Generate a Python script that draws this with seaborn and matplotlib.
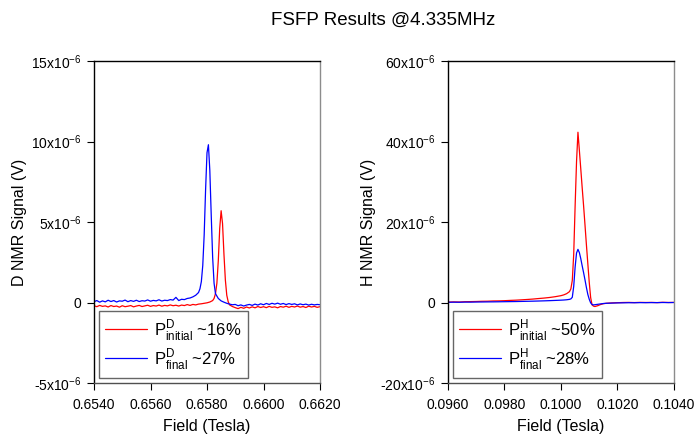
import numpy as np
import pandas as pd
import matplotlib
matplotlib.use("Agg")
import matplotlib.pyplot as plt
import seaborn as sns
from matplotlib.ticker import FixedLocator, FuncFormatter

# ── Data (signal values in units of 1e-6 V) ───────────────────────────────────
D_FIELD_FINAL = [
    0.6540, 0.6541, 0.6542, 0.6543, 0.6544, 0.6545, 0.6546, 0.6547, 0.6548, 0.6549,
    0.6550, 0.6551, 0.6552, 0.6553, 0.6554, 0.6555, 0.6556, 0.6557, 0.6558, 0.6559,
    0.6560, 0.6561, 0.6562, 0.6563, 0.6564, 0.6565, 0.6566, 0.6567, 0.6568, 0.6569,
    0.6570, 0.6571, 0.6572, 0.6573, 0.6574, 0.6575, 0.6576, 0.6577, 0.65775, 0.6578,
    0.65785, 0.6579, 0.65795, 0.6580, 0.65805, 0.6581, 0.65815, 0.6582, 0.65825, 0.6583,
    0.6584, 0.6585, 0.6586, 0.6587, 0.6588, 0.6589, 0.6590, 0.6591, 0.6592, 0.6593,
    0.6594, 0.6595, 0.6596, 0.6597, 0.6598, 0.6599, 0.6600, 0.6601, 0.6602, 0.6603,
    0.6604, 0.6605, 0.6606, 0.6607, 0.6608, 0.6609, 0.6610, 0.6611, 0.6612, 0.6613,
    0.6614, 0.6615, 0.6616, 0.6617, 0.6618, 0.6619, 0.6620,
]
D_SIGNAL_FINAL = [
    0.05, 0.12, 0.02, 0.10, 0.04, 0.14, 0.06, 0.12, 0.03, 0.10,
    0.08, 0.15, 0.05, 0.12, 0.07, 0.14, 0.06, 0.11, 0.09, 0.16,
    0.08, 0.13, 0.10, 0.17, 0.09, 0.14, 0.12, 0.18, 0.15, 0.32,
    0.12, 0.20, 0.18, 0.25, 0.28, 0.35, 0.45, 0.62, 0.85, 1.3,
    2.3, 4.2, 7.0, 9.3, 9.8, 8.2, 5.4, 2.8, 1.2, 0.55,
    0.25, 0.10, 0.02, -0.05, -0.10, -0.14, -0.12, -0.20, -0.15, -0.22,
    -0.16, -0.12, -0.18, -0.10, -0.16, -0.08, -0.14, -0.06, -0.12, -0.05,
    -0.10, -0.04, -0.11, -0.06, -0.13, -0.07, -0.12, -0.08, -0.15, -0.09,
    -0.14, -0.10, -0.16, -0.11, -0.15, -0.12, -0.14,
]

D_FIELD_INITIAL = [
    0.6540, 0.6541, 0.6542, 0.6543, 0.6544, 0.6545, 0.6546, 0.6547, 0.6548, 0.6549,
    0.6550, 0.6551, 0.6552, 0.6553, 0.6554, 0.6555, 0.6556, 0.6557, 0.6558, 0.6559,
    0.6560, 0.6561, 0.6562, 0.6563, 0.6564, 0.6565, 0.6566, 0.6567, 0.6568, 0.6569,
    0.6570, 0.6571, 0.6572, 0.6573, 0.6574, 0.6575, 0.6576, 0.6577, 0.6578, 0.6579,
    0.6580, 0.6581, 0.6582, 0.65825, 0.6583, 0.65835, 0.6584, 0.65845, 0.6585, 0.65855,
    0.6586, 0.65865, 0.6587, 0.65875, 0.6588, 0.6589, 0.6590, 0.6591, 0.6592, 0.6593,
    0.6594, 0.6595, 0.6596, 0.6597, 0.6598, 0.6599, 0.6600, 0.6601, 0.6602, 0.6603,
    0.6604, 0.6605, 0.6606, 0.6607, 0.6608, 0.6609, 0.6610, 0.6611, 0.6612, 0.6613,
    0.6614, 0.6615, 0.6616, 0.6617, 0.6618, 0.6619, 0.6620,
]
D_SIGNAL_INITIAL = [
    -0.20, -0.26, -0.18, -0.24, -0.21, -0.28, -0.19, -0.25, -0.22, -0.29,
    -0.20, -0.26, -0.23, -0.19, -0.27, -0.22, -0.18, -0.25, -0.21, -0.17,
    -0.24, -0.19, -0.22, -0.16, -0.23, -0.18, -0.21, -0.15, -0.20, -0.17,
    -0.22, -0.16, -0.19, -0.13, -0.18, -0.12, -0.15, -0.10, -0.08, -0.05,
    -0.02, 0.03, 0.12, 0.25, 0.55, 1.2, 2.6, 4.6, 5.7, 4.9,
    3.0, 1.4, 0.45, 0.05, -0.15, -0.25, -0.32, -0.38, -0.30, -0.36,
    -0.28, -0.34, -0.27, -0.33, -0.25, -0.31, -0.26, -0.32, -0.24, -0.30,
    -0.27, -0.33, -0.25, -0.29, -0.23, -0.30, -0.24, -0.28, -0.22, -0.29,
    -0.25, -0.31, -0.23, -0.28, -0.24, -0.30, -0.26,
]

H_FIELD = [
    0.0960, 0.0962, 0.0964, 0.0966, 0.0968, 0.0970, 0.0972, 0.0974, 0.0976, 0.0978,
    0.0980, 0.0982, 0.0984, 0.0986, 0.0988, 0.0990, 0.0992, 0.0994, 0.0996, 0.0998,
    0.1000, 0.1001, 0.1002, 0.1003, 0.10035, 0.1004, 0.10045, 0.1005, 0.10055, 0.1006,
    0.10065, 0.1007, 0.10075, 0.1008, 0.10085, 0.1009, 0.10095, 0.1010, 0.10105, 0.1011,
    0.10115, 0.1012, 0.1013, 0.1014, 0.1015, 0.1016, 0.1018, 0.1020, 0.1022, 0.1024,
    0.1026, 0.1028, 0.1030, 0.1032, 0.1034, 0.1036, 0.1038, 0.1040,
]
H_SIGNAL_INITIAL = [
    0.10, 0.15, 0.12, 0.20, 0.22, 0.25, 0.30, 0.32, 0.38, 0.40,
    0.45, 0.52, 0.58, 0.66, 0.75, 0.85, 0.98, 1.10, 1.25, 1.45,
    1.7, 1.9, 2.2, 2.7, 3.4, 5.5, 12.0, 24.0, 35.0, 42.3,
    37.8, 33.2, 28.5, 24.0, 19.2, 14.3, 9.6, 5.0, 1.2, -0.6,
    -0.9, -1.0, -0.8, -0.5, -0.3, -0.2, -0.1, -0.05, 0.0, 0.02,
    -0.02, 0.03, 0.0, 0.02, -0.03, 0.05, 0.0, 0.02,
]
H_SIGNAL_FINAL = [
    0.05, 0.08, 0.06, 0.10, 0.09, 0.12, 0.13, 0.15, 0.16, 0.18,
    0.20, 0.22, 0.24, 0.27, 0.30, 0.33, 0.37, 0.41, 0.46, 0.52,
    0.58, 0.62, 0.68, 0.78, 0.9, 1.3, 4.0, 8.8, 12.3, 13.2,
    12.4, 10.9, 9.1, 7.4, 5.6, 3.7, 2.0, 0.8, -0.1, -0.5,
    -0.6, -0.55, -0.45, -0.35, -0.25, -0.2, -0.15, -0.1, -0.08, -0.05,
    -0.06, -0.03, -0.04, -0.02, -0.03, 0.0, -0.02, 0.0,
]

D_XTICKS = [0.6540, 0.6560, 0.6580, 0.6600, 0.6620]
D_YTICKS = [-5, 0, 5, 10, 15]
H_XTICKS = [0.0960, 0.0980, 0.1000, 0.1020, 0.1040]
H_YTICKS = [-20, 0, 20, 40, 60]

D_LABELS = [r"P$^{\mathregular{D}}_{\mathregular{initial}}$ ~16%",
            r"P$^{\mathregular{D}}_{\mathregular{final}}$ ~27%"]
H_LABELS = [r"P$^{\mathregular{H}}_{\mathregular{initial}}$ ~50%",
            r"P$^{\mathregular{H}}_{\mathregular{final}}$ ~28%"]

# ── Style ─────────────────────────────────────────────────────────────────────
sns.set_style("ticks")
plt.rcParams["font.family"] = ["Liberation Sans", "DejaVu Sans"]
plt.rcParams["mathtext.fontset"] = "custom"
plt.rcParams["mathtext.rm"] = "Liberation Sans"
plt.rcParams["text.color"] = "black"
plt.rcParams["axes.labelcolor"] = "black"
plt.rcParams["xtick.color"] = "black"
plt.rcParams["ytick.color"] = "black"


def ytick_fmt(v, pos):
    if abs(v) < 1e-12:
        return "0"
    return r"%dx10$^{\mathregular{-6}}$" % round(v * 1e6)


def panel(ax, x_init, y_init, x_fin, y_fin, xticks, yticks, labels, ylabel):
    d_init = pd.DataFrame({"x": x_init, "y": np.array(y_init) * 1e-6})
    d_fin = pd.DataFrame({"x": x_fin, "y": np.array(y_fin) * 1e-6})
    sns.lineplot(data=d_init, x="x", y="y", ax=ax, color="#ff0000",
                 linewidth=0.9, estimator=None, sort=False, label=labels[0])
    sns.lineplot(data=d_fin, x="x", y="y", ax=ax, color="#0000ff",
                 linewidth=0.9, estimator=None, sort=False, label=labels[1])
    ax.set_xlim(xticks[0], xticks[-1])
    ax.set_ylim(yticks[0] * 1e-6, yticks[-1] * 1e-6)
    ax.xaxis.set_major_locator(FixedLocator(xticks))
    ax.xaxis.set_major_formatter(FuncFormatter(lambda v, p: "%.4f" % v))
    ax.yaxis.set_major_locator(FixedLocator([t * 1e-6 for t in yticks]))
    ax.yaxis.set_major_formatter(FuncFormatter(ytick_fmt))
    ax.tick_params(axis="both", direction="out", length=5, width=0.8,
                   labelsize=10, colors="black", pad=4)
    ax.tick_params(axis="x", pad=6)
    for side in ["left", "top"]:
        ax.spines[side].set_color("black")
    ax.spines["right"].set_color("#8c8c8c")
    ax.spines["bottom"].set_color("#505050")
    for sp in ax.spines.values():
        sp.set_visible(True)
        sp.set_linewidth(1.0)
    ax.set_xlabel("Field (Tesla)", fontsize=11.5, labelpad=5)
    ax.set_ylabel(ylabel, fontsize=11.5, labelpad=3)
    leg = ax.legend(loc="lower left", bbox_to_anchor=(0.022, 0.016),
                    borderaxespad=0, fontsize=12, frameon=True, fancybox=False,
                    handlelength=2.5, handletextpad=0.45, borderpad=0.38,
                    labelspacing=0.2)
    leg.get_frame().set_edgecolor("#404040")
    leg.get_frame().set_linewidth(1.0)


fig = plt.figure(figsize=(6.98, 4.37), dpi=100)
ax1 = fig.add_axes([94 / 698, 1 - 383 / 437, 226 / 698, 322 / 437])
ax2 = fig.add_axes([448 / 698, 1 - 383 / 437, 226 / 698, 322 / 437])

panel(ax1, D_FIELD_INITIAL, D_SIGNAL_INITIAL, D_FIELD_FINAL, D_SIGNAL_FINAL,
      D_XTICKS, D_YTICKS, D_LABELS, "D NMR Signal (V)")
panel(ax2, H_FIELD, H_SIGNAL_INITIAL, H_FIELD, H_SIGNAL_FINAL,
      H_XTICKS, H_YTICKS, H_LABELS, "H NMR Signal (V)")

fig.text(383 / 698, 1 - 20 / 437, "FSFP Results @4.335MHz", ha="center",
         va="center", fontsize=13.5)

fig.savefig("out.png", dpi=100)
